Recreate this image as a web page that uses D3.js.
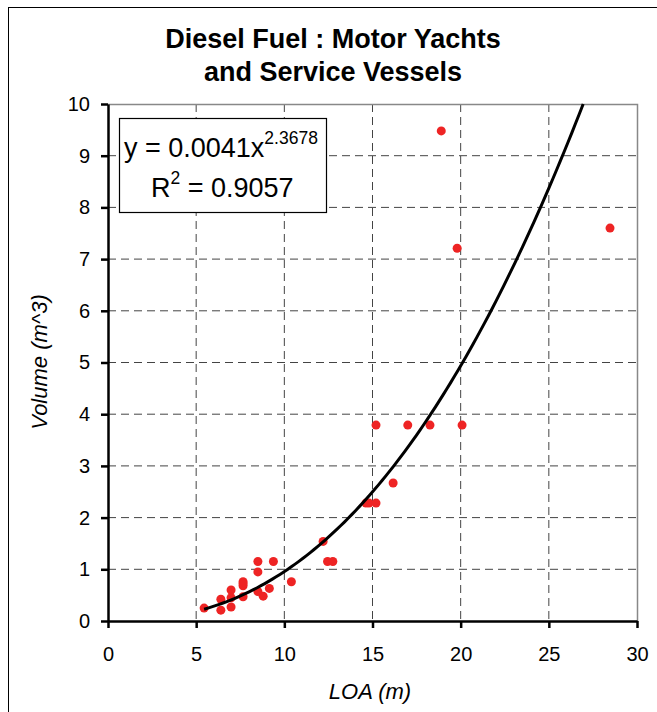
<!DOCTYPE html>
<html lang="en">
<head>
<meta charset="UTF-8">
<title>Diesel Fuel : Motor Yachts and Service Vessels</title>
<script src="https://d3js.org/d3.v7.min.js"></script>
<style>
  body { margin: 0; background: #fff; }
  svg { font-family: "Liberation Sans", Arial, sans-serif; }
</style>
</head>
<body>
<div id="chart"></div>
<script>
const width = 657, height = 712;

// data: LOA (m) and fuel volume (m^3)
const loa = [5.45, 6.4, 6.4, 6.98, 6.98, 6.98, 7.66, 7.66, 7.66, 7.66, 8.5, 8.5, 8.5, 8.8, 9.15, 9.38,
  10.4, 12.2, 12.45, 12.75, 14.63, 14.8, 15.2, 16.17, 15.2, 17.0, 18.26, 20.08, 18.9, 19.8, 28.47];
const volume = [0.25, 0.42, 0.21, 0.60, 0.45, 0.27, 0.76, 0.68, 0.47, 0.72, 1.15, 0.95, 0.57, 0.48, 0.63, 1.15,
  0.76, 1.54, 1.15, 1.15, 2.28, 2.28, 2.28, 2.67, 3.79, 3.79, 3.79, 3.79, 9.48, 7.21, 7.6];
const xTicks = [0, 5, 10, 15, 20, 25, 30];
const yTicks = [0, 1, 2, 3, 4, 5, 6, 7, 8, 9, 10];
const fitA = 0.0041, fitB = 2.3678;

const svg = d3.select("#chart").append("svg")
    .attr("width", width)
    .attr("height", height);

// outer chart frame
svg.append("rect")
    .attr("x", 8.5).attr("y", 7.5)
    .attr("width", 700).attr("height", 800)
    .attr("fill", "none").attr("stroke", "#000").attr("stroke-width", 1);

const x = d3.scaleLinear().domain([0, 30]).range([108, 637]);
const y = d3.scaleLinear().domain([0, 10]).range([621, 104]);

// gridlines
svg.append("g").selectAll("line").data(xTicks.filter(d => d > 0 && d < 30)).join("line")
    .attr("x1", d => x(d)).attr("x2", d => x(d))
    .attr("y1", y(10)).attr("y2", y(0))
    .attr("stroke", "#444").attr("stroke-dasharray", "8,5");
svg.append("g").selectAll("line").data(yTicks.filter(d => d > 0 && d < 10)).join("line")
    .attr("x1", x(0)).attr("x2", x(30))
    .attr("y1", d => y(d)).attr("y2", d => y(d))
    .attr("stroke", "#444").attr("stroke-dasharray", "8,5");

// top and right plot border
svg.append("path")
    .attr("d", `M${x(0)},${y(10) + 0.5}H${x(30) + 0.5}V${y(0)}`)
    .attr("fill", "none").attr("stroke", "#888").attr("stroke-width", 1.5);

// axes
const xAxis = svg.append("g")
    .attr("transform", `translate(0,${y(0)})`)
    .call(d3.axisBottom(x).tickValues(xTicks).tickSizeInner(7).tickSizeOuter(0).tickPadding(19));
const yAxis = svg.append("g")
    .attr("transform", `translate(${x(0)},0)`)
    .call(d3.axisLeft(y).tickValues(yTicks).tickSizeInner(7).tickSizeOuter(0).tickPadding(11));
[xAxis, yAxis].forEach(g => {
    g.select(".domain").attr("stroke", "#000").attr("stroke-width", 2.5);
    g.selectAll(".tick line").attr("stroke", "#000").attr("stroke-width", 2.5);
    g.selectAll(".tick text").attr("font-size", 20).attr("fill", "#000")
        .attr("font-family", "Liberation Sans, Arial, sans-serif");
});

// points
svg.append("g").selectAll("circle").data(loa.map((d, i) => [d, volume[i]])).join("circle")
    .attr("cx", d => x(d[0])).attr("cy", d => y(d[1]))
    .attr("r", 4.5)
    .attr("fill", "#ee2424");

// power trendline
const xMin = d3.min(loa);
const xMax = Math.pow(10 / fitA, 1 / fitB);
const curve = d3.range(0, 101).map(i => {
    const v = xMin + (xMax - xMin) * i / 100;
    return [v, fitA * Math.pow(v, fitB)];
});
svg.append("path")
    .datum(curve)
    .attr("d", d3.line().x(d => x(d[0])).y(d => y(d[1])))
    .attr("fill", "none").attr("stroke", "#000").attr("stroke-width", 3);

// equation box
svg.append("rect")
    .attr("x", 119.5).attr("y", 118.5).attr("width", 207).attr("height", 94)
    .attr("fill", "#fff").attr("stroke", "#000").attr("stroke-width", 1.2);
const eq = svg.append("text").attr("x", 124).attr("y", 157).attr("font-size", 27);
eq.append("tspan").text("y = 0.0041x");
eq.append("tspan").attr("dy", -13).attr("font-size", 17.5).text("2.3678");
const r2 = svg.append("text").attr("x", 151).attr("y", 197).attr("font-size", 27);
r2.append("tspan").text("R");
r2.append("tspan").attr("dy", -13).attr("font-size", 17.5).text("2");
r2.append("tspan").attr("dy", 13).text(" = 0.9057");

// titles
svg.append("text")
    .attr("x", 333).attr("y", 48).attr("text-anchor", "middle")
    .attr("font-size", 27).attr("font-weight", "bold")
    .text("Diesel Fuel : Motor Yachts");
svg.append("text")
    .attr("x", 333).attr("y", 81).attr("text-anchor", "middle")
    .attr("font-size", 27).attr("font-weight", "bold")
    .text("and Service Vessels");
svg.append("text")
    .attr("x", 370).attr("y", 699).attr("text-anchor", "middle")
    .attr("font-size", 22).attr("font-style", "italic")
    .text("LOA (m)");
svg.append("text")
    .attr("transform", "translate(47,362) rotate(-90)")
    .attr("text-anchor", "middle")
    .attr("font-size", 22).attr("font-style", "italic")
    .text("Volume (m^3)");
</script>
</body>
</html>
